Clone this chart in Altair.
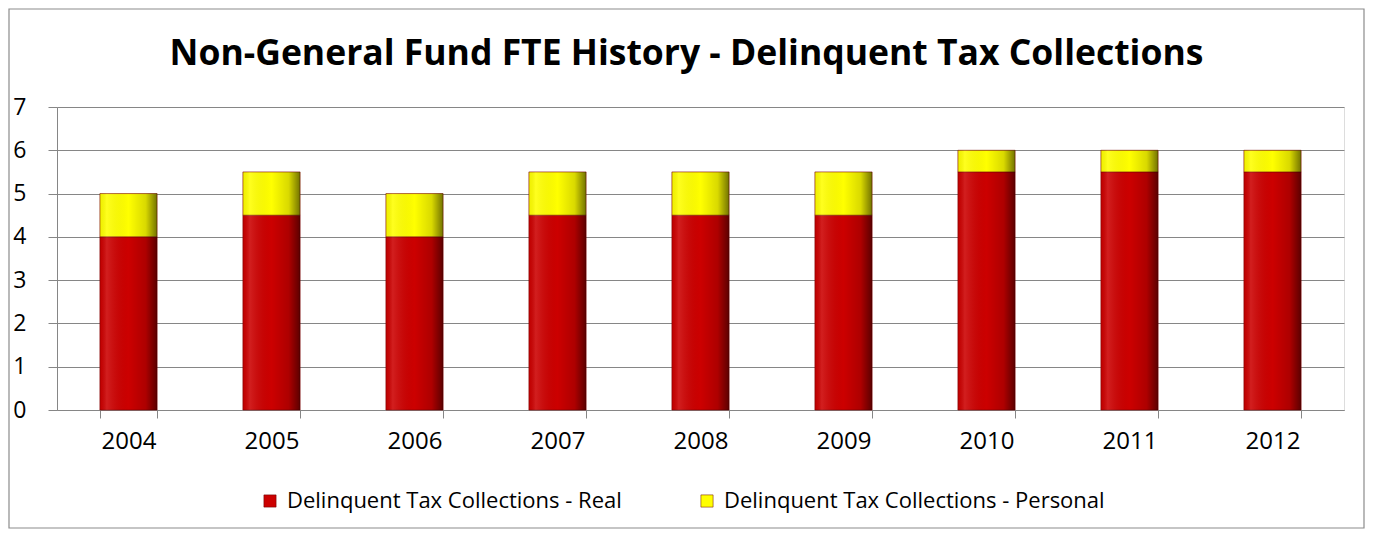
import altair as alt
import pandas as pd

years = ["2004", "2005", "2006", "2007", "2008", "2009", "2010", "2011", "2012"]
real = [4, 4.5, 4, 4.5, 4.5, 4.5, 5.5, 5.5, 5.5]
personal = [1, 1, 1, 1, 1, 1, 0.5, 0.5, 0.5]
series = ["Delinquent Tax Collections - Real", "Delinquent Tax Collections - Personal"]
colors = ["#CC0000", "#FFFF00"]

rows = []
for i, y in enumerate(years):
    rows.append({"year": y, "series": series[0], "value": real[i], "order": 0})
    rows.append({"year": y, "series": series[1], "value": personal[i], "order": 1})
df = pd.DataFrame(rows)

W, H = 1287, 303
FONT = "Open Sans"

base = alt.Chart(df).encode(
    x=alt.X("year:N", sort=years, title=None,
            scale=alt.Scale(paddingInner=0.6, paddingOuter=0.3),
            axis=alt.Axis(labelAngle=0, labelFontSize=24, labelFont=FONT, labelColor="#000",
                          tickBand="extent", tickSize=8, tickColor="#868686",
                          domainColor="#868686", labelPadding=11, grid=False)),
    y=alt.Y("value:Q", stack="zero", title=None,
            scale=alt.Scale(domain=[0, 7], nice=False),
            axis=alt.Axis(values=list(range(8)), labelFontSize=23, labelFont=FONT, labelColor="#000",
                          tickSize=9, tickColor="#868686", domainColor="#868686",
                          gridColor="#868686", gridWidth=1, labelPadding=22)),
    order=alt.Order("order:Q"),
)

bars = base.mark_bar(stroke="#7a0000", strokeWidth=0.6).encode(
    color=alt.Color("series:N", sort=series,
                    scale=alt.Scale(domain=series, range=colors),
                    legend=alt.Legend(title=None, orient="none", direction="horizontal",
                                      legendX=202, legendY=383, symbolType="square",
                                      symbolSize=150, symbolStrokeColor="#600000", symbolStrokeWidth=0.5,
                                      labelFontSize=22, labelFont=FONT, labelColor="#000",
                                      labelLimit=800, columnPadding=74, labelOffset=6)),
)

shade = base.mark_bar(
    color=alt.Gradient(
        gradient="linear", x1=0, x2=1, y1=0, y2=0,
        stops=[alt.GradientStop(color="rgba(0,0,0,0.05)", offset=0),
               alt.GradientStop(color="rgba(255,255,255,0.12)", offset=0.12),
               alt.GradientStop(color="rgba(0,0,0,0)", offset=0.5),
               alt.GradientStop(color="rgba(0,0,0,0.15)", offset=0.8),
               alt.GradientStop(color="rgba(0,0,0,0.55)", offset=1)]))

frame = alt.Chart(pd.DataFrame({"k": [0]})).mark_rect(
    fill=None, stroke="#8c8c8c", strokeWidth=1.2, clip=False
).encode(x=alt.value(-48), x2=alt.value(W + 20), y=alt.value(-98), y2=alt.value(H + 118))

chart = alt.layer(frame, bars, shade).properties(
    width=W, height=H,
    title=alt.TitleParams("Non-General Fund FTE History - Delinquent Tax Collections",
                          font=FONT, fontSize=35.5, fontWeight="bold", color="#000",
                          anchor="middle", frame="group", offset=0, dy=64, dx=-14),
    autosize=alt.AutoSizeParams(type="none"),
    padding={"left": 49, "top": 99, "right": 22, "bottom": 122},
).configure_view(stroke=None).configure(background="white")

chart.save("out.html", embed_options={"renderer": "svg", "actions": False})
